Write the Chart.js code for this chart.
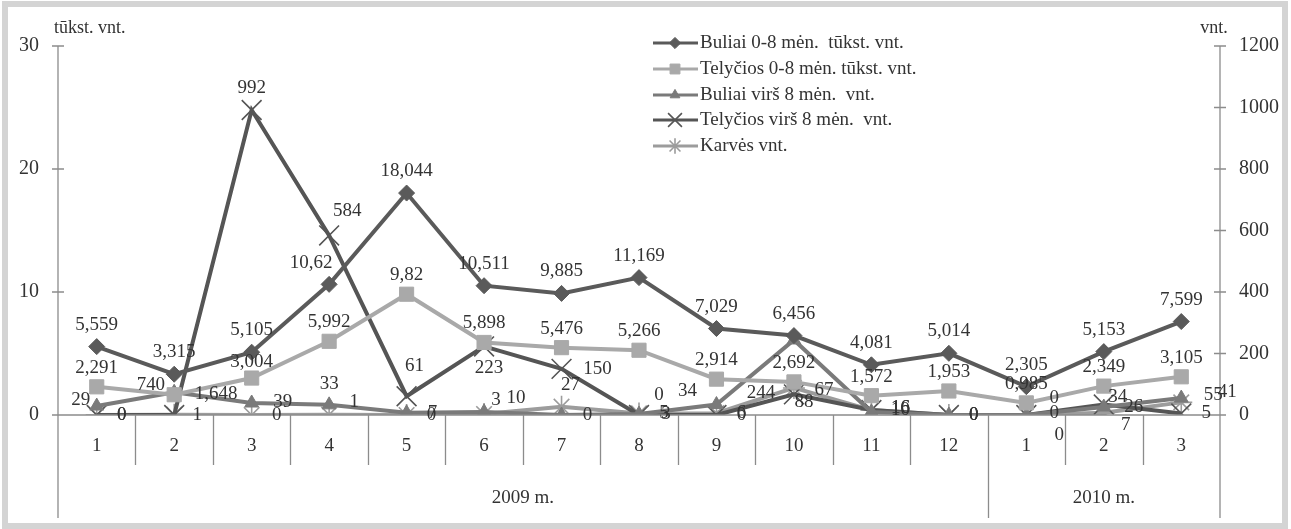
<!DOCTYPE html>
<html>
<head>
<meta charset="utf-8">
<script src="https://cdn.jsdelivr.net/npm/chart.js@4.4.1/dist/chart.umd.min.js"></script>
<style>
html,body{margin:0;padding:0;background:#fff;}
#wrap{width:1291px;height:529px;}
</style>
</head>
<body>
<div id="wrap"><canvas id="chart" width="1291" height="529"></canvas></div>
<script>
// kategorijos (mėnesiai) ir metai
const months=['1','2','3','4','5','6','7','8','9','10','11','12','1','2','3'];
const yearLabels=['2009 m.','2010 m.'];
const yearStarts=[0,12];

// tūkst. vnt. (kairė ašis)
const buliai08=[5.559,3.315,5.105,10.62,18.044,10.511,9.885,11.169,7.029,6.456,4.081,5.014,2.305,5.153,7.599];
const telycios08=[2.291,1.648,3.004,5.992,9.82,5.898,5.476,5.266,2.914,2.692,1.572,1.953,0.985,2.349,3.105];
// vnt. (dešinė ašis)
const buliaiVirs8=[29,74,39,33,7,10,0,3,34,244,10,0,0,26,55];
const telyciosVirs8=[0,0,992,584,61,223,150,0,0,67,16,0,0,34,5];
const karves=[0,1,0,1,0,3,27,5,6,88,16,0,0,7,41];

const leftTicks=[0,10,20,30];
const rightTicks=[0,200,400,600,800,1000,1200];

const FONT='"Liberation Serif","DejaVu Serif",serif';
const TXT='#333';
const AXIS='#8c8c8c';

// etikečių poslinkiai: numatytasis kiekvienai serijai + keli pataisymai
const labelDefault=[[0,-22],[0,-19],[-16,-12],[25,0],[25,0]];
const labelFix={
  '0:3':[-18,-21],
  '1:1':[42,-1],'1:2':[0,-16],
  '2:0':[-16,-6],'2:1':[-28,-7],'2:2':[31,-1],'2:3':[0,-21],'2:4':[26,0],'2:5':[32,-14],'2:6':[26,0],'2:7':[27,0],
  '2:8':[-29,-14],'2:9':[-33,53],'2:10':[29,-2],'2:11':[25,0],'2:12':[28,-17],'2:13':[30,0],'2:14':[32,-3],
  '3:1':[-14,-30],'3:2':[0,-22],'3:3':[18,-24],'3:4':[8,-30],'3:5':[5,22],'3:6':[36,0],'3:7':[20,-20],
  '3:9':[30,-4],'3:10':[29,-2],'3:12':[28,-2],'3:13':[14,-8],
  '4:1':[23,0],'4:3':[25,-13],'4:5':[12,-14],'4:6':[9,-22],'4:9':[10,14],'4:10':[29,-2],'4:12':[33,20],'4:13':[22,12],'4:14':[46,-10]
};

const fmt=v=>String(v).replace('.',',');

const decorPlugin={
  id:'decor',
  beforeDraw(chart){
    const c=chart.ctx;
    c.save();
    c.fillStyle='#fff';c.fillRect(0,0,chart.width,chart.height);
    c.strokeStyle='#d4d4d4';c.lineWidth=6;
    c.strokeRect(5,4,1280,522);
    c.restore();
  },
  afterDraw(chart){
    const c=chart.ctx, x=chart.scales.x, yl=chart.scales.y, yr=chart.scales.y1;
    const a=chart.chartArea;
    c.save();
    c.strokeStyle=AXIS;c.lineWidth=1.3;
    // ašys
    c.beginPath();
    c.moveTo(a.left,a.top);c.lineTo(a.left,518);
    c.moveTo(a.right,a.top);c.lineTo(a.right,518);
    c.moveTo(a.left,a.bottom);c.lineTo(a.right,a.bottom);
    leftTicks.forEach(t=>{const p=yl.getPixelForValue(t);c.moveTo(a.left-6,p);c.lineTo(a.left+6,p);});
    rightTicks.forEach(t=>{const p=yr.getPixelForValue(t);c.moveTo(a.right-6,p);c.lineTo(a.right+6,p);});
    // mėnesių skirtukai
    const step=x.getPixelForValue(1)-x.getPixelForValue(0);
    for(let i=1;i<months.length;i++){
      const px=Math.round(x.getPixelForValue(i)-step/2)+0.5;
      c.moveTo(px,a.bottom);c.lineTo(px,yearStarts.includes(i)?518:465);
    }
    c.stroke();
    // ašių tekstai
    c.fillStyle=TXT;c.font='20px '+FONT;c.textBaseline='middle';
    c.textAlign='right';
    leftTicks.forEach(t=>c.fillText(String(t),39,yl.getPixelForValue(t)));
    c.textAlign='left';
    rightTicks.forEach(t=>c.fillText(String(t),a.right+19,yr.getPixelForValue(t)));
    c.font='18px '+FONT;
    c.fillText('tūkst. vnt.',54,28);
    c.textAlign='center';
    c.fillText('vnt.',a.right-6,28);
    // kategorijos
    c.font='19px '+FONT;
    months.forEach((m,i)=>c.fillText(m,x.getPixelForValue(i),446));
    yearLabels.forEach((y,k)=>{
      const s=yearStarts[k], e=(yearStarts[k+1]||months.length)-1;
      const l=x.getPixelForValue(s)-step/2, r=x.getPixelForValue(e)+step/2;
      c.fillText(y,(l+r)/2,498);
    });
    // duomenų etiketės
    c.font='19px '+FONT;
    chart.data.datasets.forEach((ds,si)=>{
      const meta=chart.getDatasetMeta(si);
      meta.data.forEach((pt,i)=>{
        const off=labelFix[si+':'+i]||labelDefault[si];
        c.fillText(si<2?fmt(ds.data[i]):String(ds.data[i]),pt.x+off[0],pt.y+off[1]);
      });
    });
    // legenda
    const lx=653, rows=[43,69,95,120,146];
    chart.data.datasets.forEach((ds,si)=>{
      const yy=rows[si];
      c.strokeStyle=ds.borderColor;c.lineWidth=3;
      c.beginPath();c.moveTo(lx,yy);c.lineTo(lx+45,yy);c.stroke();
      c.fillStyle=ds.backgroundColor;c.lineWidth=ds.pointBorderWidth;
      Chart.helpers.drawPoint(c,{pointStyle:ds.pointStyle,radius:ds.pointRadius*0.7,borderWidth:ds.pointBorderWidth,rotation:0},lx+22,yy);
      c.fillStyle=TXT;c.textAlign='left';c.font='19px '+FONT;
      c.fillText(ds.label,lx+47,yy);
    });
    c.restore();
  }
};

function series(label,data,color,style,radius,axis){
  return {label,data,yAxisID:axis,borderColor:color,backgroundColor:color,
    pointBackgroundColor:color,pointBorderColor:color,pointStyle:style,pointRadius:radius,
    pointBorderWidth:style==='crossRot'||style==='star'?1.6:1,borderWidth:4,tension:0,fill:false};
}

new Chart(document.getElementById('chart'),{
  type:'line',
  data:{
    labels:months,
    datasets:[
      series('Buliai 0-8 mėn.  tūkst. vnt.',buliai08,'#5a5a5a','rectRot',8,'y'),
      series('Telyčios 0-8 mėn. tūkst. vnt.',telycios08,'#a9a9a9','rect',10,'y'),
      series('Buliai virš 8 mėn.  vnt.',buliaiVirs8,'#7a7a7a','triangle',8,'y1'),
      series('Telyčios virš 8 mėn.  vnt.',telyciosVirs8,'#555555','crossRot',14,'y1'),
      series('Karvės vnt.',karves,'#9c9c9c','star',11,'y1')
    ]
  },
  options:{
    responsive:false,animation:false,
    layout:{padding:{left:8,right:8,top:46,bottom:114}},
    plugins:{legend:{display:false},tooltip:{enabled:false}},
    scales:{
      x:{type:'category',offset:true,display:false},
      y:{position:'left',min:0,max:30,display:true,
        ticks:{display:false,stepSize:10},grid:{display:false},border:{display:false},
        afterFit:s=>{s.width=50;}},
      y1:{position:'right',min:0,max:1200,display:true,
        ticks:{display:false,stepSize:200},grid:{display:false},border:{display:false},
        afterFit:s=>{s.width=63;}}
    }
  },
  plugins:[decorPlugin]
});
</script>
</body>
</html>
